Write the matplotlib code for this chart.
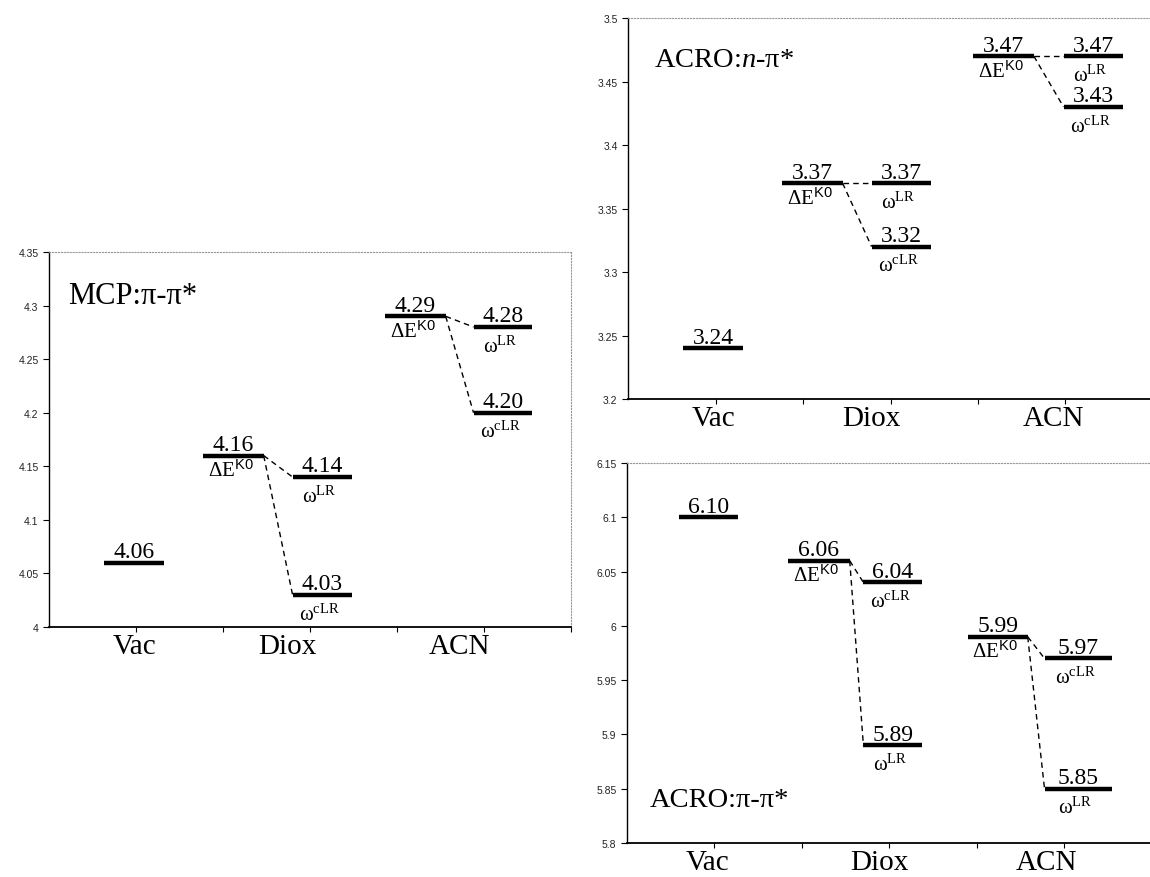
import matplotlib.pyplot as plt
from matplotlib.ticker import FuncFormatter

plt.rcParams['mathtext.fontset'] = 'custom'
plt.rcParams['mathtext.rm'] = 'Liberation Serif'
plt.rcParams['mathtext.it'] = 'Liberation Serif:italic'
plt.rcParams['mathtext.sf'] = 'Liberation Sans'

solvents = ['Vac', 'Diox', 'ACN']

# MCP: pi-pi*  (solvent values are Diox, ACN)
mcp_vac = 4.06
mcp_k0 = [4.16, 4.29]
mcp_lr = [4.14, 4.28]
mcp_clr = [4.03, 4.20]

# ACRO: n-pi*
acro_n_vac = 3.24
acro_n_k0 = [3.37, 3.47]
acro_n_lr = [3.37, 3.47]
acro_n_clr = [3.32, 3.43]

# ACRO: pi-pi*
acro_pi_vac = 6.10
acro_pi_k0 = [6.06, 5.99]
acro_pi_lr = [5.89, 5.85]
acro_pi_clr = [6.04, 5.97]

SERIF = 'Liberation Serif'
K0 = r'$\mathrm{ΔE}^{\mathsf{K0}}$'
LR = r'$\mathrm{ω}^{\mathrm{LR}}$'
CLR = r'$\mathrm{ω}^{\mathrm{cLR}}$'


def level(ax, x0, x1, y, label=None, lab_off=-3):
    ax.hlines(y, x0, x1, color='black', lw=3.2)
    ax.annotate(f'{y:.2f}', ((x0 + x1) / 2, y), xytext=(0, 4),
                textcoords='offset points', ha='center', va='baseline',
                fontsize=17, family=SERIF)
    if label:
        ax.annotate(label, ((x0 + x1) / 2, y), xytext=(-2, lab_off),
                    textcoords='offset points', ha='center', va='top',
                    fontsize=15, family=SERIF)


def panel(rect, vac, k0, lr, clr, ylo, yhi, lay, title, tsize):
    ax = fig.add_axes(rect)
    ax.set_xlim(0, 3)
    ax.set_ylim(ylo, yhi)

    level(ax, *lay['vac'], vac)
    for i in range(2):
        a0, a1 = lay['k0'][i]
        b0, b1 = lay['w'][i]
        level(ax, a0, a1, k0[i], K0)
        level(ax, b0, b1, lr[i], LR, -6)
        level(ax, b0, b1, clr[i], CLR, -6)
        ax.plot([a1, b0], [k0[i], lr[i]], color='black', lw=1, ls=(0, (4, 3)))
        ax.plot([a1, b0], [k0[i], clr[i]], color='black', lw=1, ls=(0, (4, 3)))

    ax.text(lay['title'][0], lay['title'][1], title, transform=ax.transAxes,
            fontsize=tsize, family=SERIF)

    for name, x in zip(solvents, lay['cats']):
        ax.annotate(name, (x, ylo), xytext=(0, -4.5), textcoords='offset points',
                    ha='center', va='top', fontsize=21, family=SERIF,
                    annotation_clip=False)

    n = int(round((yhi - ylo) / 0.05))
    ax.set_yticks([round(ylo + 0.05 * k, 2) for k in range(n + 1)])
    ax.yaxis.set_major_formatter(FuncFormatter(lambda v, p: f'{v:g}'))
    ax.set_xticks([0.5, 1, 1.5, 2, 2.5, 3])
    ax.set_xticklabels([])
    ax.tick_params(axis='x', length=3.5)
    ax.tick_params(axis='y', length=4, labelsize=7.5, labelcolor='#222222')
    for t in ax.get_yticklabels():
        t.set_family('Liberation Sans')
    for s in ['top', 'right']:
        ax.spines[s].set_linestyle(':')
        ax.spines[s].set_color('#999999')
        ax.spines[s].set_linewidth(0.8)
    ax.spines['bottom'].set_linewidth(1.3)
    ax.spines['left'].set_linewidth(1)
    return ax


fig = plt.figure(figsize=(11.5, 8.78), dpi=100)

lay_mcp = dict(vac=(0.315, 0.66), k0=[(0.886, 1.234), (1.93, 2.28)],
               w=[(1.40, 1.74), (2.44, 2.777)], cats=[0.494, 1.37, 2.36],
               title=(0.037, 0.864))
lay_n = dict(vac=(0.317, 0.657), k0=[(0.882, 1.226), (1.973, 2.319)],
             w=[(1.392, 1.731), (2.489, 2.829)], cats=[0.487, 1.39, 2.43],
             title=(0.05, 0.874))
lay_pi = dict(vac=(0.30, 0.637), k0=[(0.92, 1.273), (1.95, 2.29)],
              w=[(1.351, 1.687), (2.386, 2.77)], cats=[0.458, 1.445, 2.395],
              title=(0.044, 0.097))

panel([0.0426, 0.2847, 0.4539, 0.4271], mcp_vac, mcp_k0, mcp_lr, mcp_clr,
      4.0, 4.35, lay_mcp, 'MCP:π-π*', 22)
panel([0.5461, 0.5444, 0.4565, 0.4339], acro_n_vac, acro_n_k0, acro_n_lr, acro_n_clr,
      3.2, 3.5, lay_n, r'ACRO:$\mathit{n}$-π*', 20.5)
panel([0.5452, 0.0387, 0.4565, 0.4328], acro_pi_vac, acro_pi_k0, acro_pi_lr, acro_pi_clr,
      5.8, 6.15, lay_pi, 'ACRO:π-π*', 20.5)

fig.savefig('out.png', dpi=100)
